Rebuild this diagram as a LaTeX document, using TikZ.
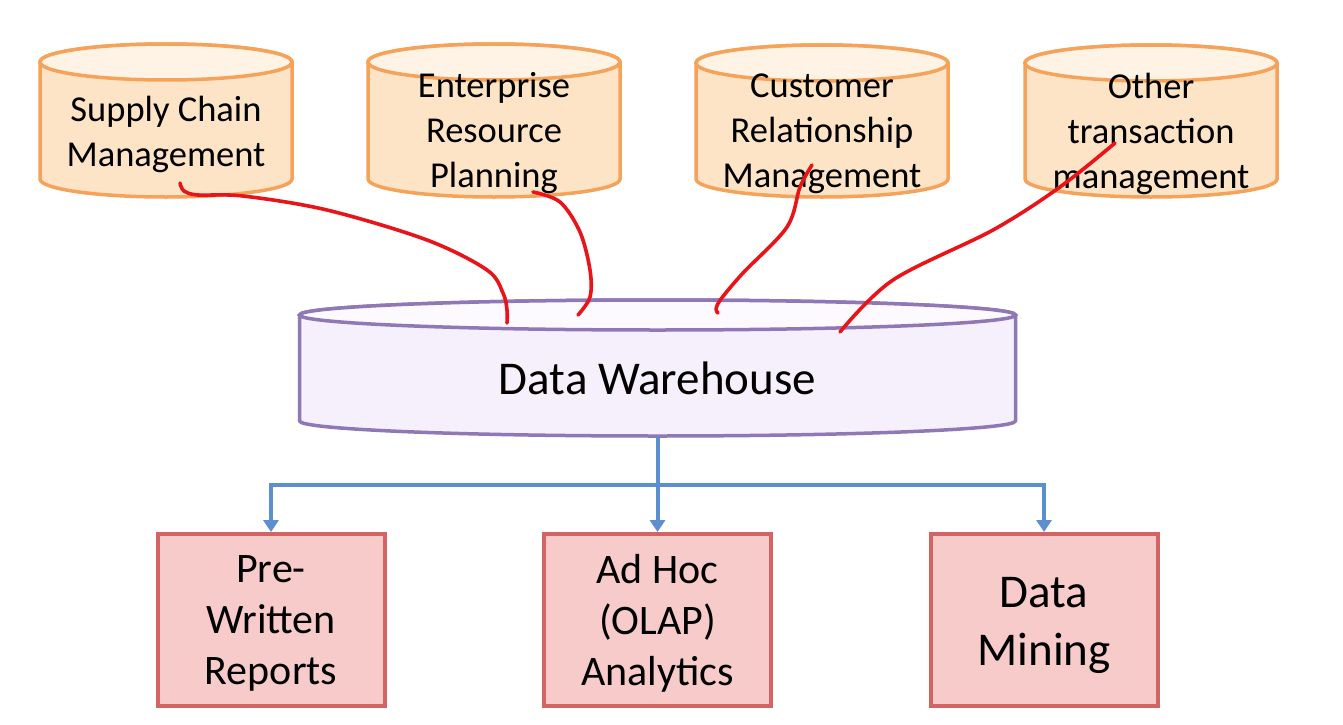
\documentclass[tikz,border=0pt]{standalone}
\usepackage{fontspec}
\setmainfont{Carlito}
\usetikzlibrary{arrows.meta}
\definecolor{cylstroke}{HTML}{F5A35A}
\definecolor{cylfill}{HTML}{FDE4C6}
\definecolor{cyltop}{HTML}{FEF3E4}
\definecolor{dwstroke}{HTML}{8F78B5}
\definecolor{dwfill}{HTML}{F5F0FC}
\definecolor{dwtop}{HTML}{FCFAFF}
\definecolor{boxstroke}{HTML}{D46464}
\definecolor{boxfill}{HTML}{F8CBCB}
\definecolor{linkblue}{HTML}{5B8FD0}
\definecolor{inkred}{HTML}{E8141A}
\newcommand\mycyl[8]{%
  \path[fill=#6,draw=#8,line width=3.5pt,line join=round]
    (#1-#4,#2) -- (#1-#4,#3) arc[start angle=180,end angle=0,x radius=#4,y radius=#5]
    -- (#1+#4,#2) arc[start angle=0,end angle=-180,x radius=#4,y radius=#5] -- cycle;
  \path[fill=#7,draw=#8,line width=3.5pt] (#1,#2) ellipse[x radius=#4,y radius=#5];
}
\tikzset{
  cyltext/.style={align=center,inner sep=0pt,font=\fontsize{36.5}{45}\selectfont,text=black},
  dwtext/.style={align=center,inner sep=0pt,minimum width=717pt,minimum height=118pt,font=\fontsize{47}{56}\selectfont},
  outbox/.style={draw=boxstroke,fill=boxfill,line width=4pt,minimum width=227pt,minimum height=172pt,inner sep=0pt},
  boxtext/.style={align=center,inner sep=0pt,font=\fontsize{42}{51}\selectfont},
  bigtext/.style={align=center,inner sep=0pt,font=\fontsize{47}{58}\selectfont},
  feed/.style={draw=linkblue,line width=4pt,-{Triangle[width=15pt,length=12pt]}},
  plain/.style={draw=linkblue,line width=4pt},
  ink/.style={draw=inkred,line width=3.6pt,line cap=round,line join=round}
}
\begin{document}
\begin{tikzpicture}[x=1pt,y=-1pt]
\useasboundingbox[fill=white] (0,0) rectangle (1343,725);
% source cylinders
\mycyl{166}{62}{179}{126}{18}{cylfill}{cyltop}{cylstroke}
\mycyl{494}{62}{179}{126}{18}{cylfill}{cyltop}{cylstroke}
\mycyl{822}{63}{179}{126}{18}{cylfill}{cyltop}{cylstroke}
\mycyl{1151}{63}{179}{126}{18}{cylfill}{cyltop}{cylstroke}
\node[cyltext] (scm) at (166,134) {Supply Chain\\Management};
\node[cyltext] (erp) at (494,133.5) {Enterprise\\Resource\\Planning};
\node[cyltext] (crm) at (822,133.5) {Customer\\Relationship\\Management};
\node[cyltext] (otm) at (1151,133.5) {Other\\transaction\\management};
% data warehouse
\mycyl{657.5}{315}{421}{358}{15}{dwfill}{dwtop}{dwstroke}
\node[dwtext] (dw) at (657.5,378) {Data Warehouse};
% output boxes
\node[outbox] (pre) at (271,620) {};
\node[outbox] (adhoc) at (657.5,620) {};
\node[outbox] (mine) at (1044,620) {};
\node[boxtext] (pretext) at (271,623.5) {Pre-\\Written\\Reports};
\node[boxtext] (adhoctext) at (657.5,623.5) {Ad Hoc\\(OLAP)\\Analytics};
\node[bigtext] (minetext) at (1044,625) {Data\\Mining};
% blue connectors
\coordinate (split) at (657.5,485);
\draw[plain] (dw.south) -- (split);
\draw[feed] (split) -| (pre.north);
\draw[feed] (split) -| (mine.north);
\draw[feed] (dw.south) -- (adhoc.north);
% red hand-drawn strokes
\coordinate (a1) at (180,183); \coordinate (b1) at (507,323);
\coordinate (a2) at (533,192); \coordinate (b2) at (578,315);
\coordinate (a3) at (812,165); \coordinate (b3) at (718,313);
\coordinate (a4) at (1115,143); \coordinate (b4) at (840,332);
\draw[ink] plot[smooth,tension=0.55] coordinates {(a1) (184,191) (198,195) (243,196) (327,210) (427,240) (487,270) (503,293) (507,310) (b1)};
\draw[ink] plot[smooth,tension=0.55] coordinates {(a2) (560,202) (580,232) (590,270) (590,297) (b2)};
\draw[ink] plot[smooth,tension=0.55] coordinates {(a3) (800,187) (787,227) (743,273) (721,299) (716,309) (b3)};
\draw[ink] plot[smooth,tension=0.55] coordinates {(a4) (1060,187) (993,230) (893,280) (b4)};
\end{tikzpicture}
\end{document}
